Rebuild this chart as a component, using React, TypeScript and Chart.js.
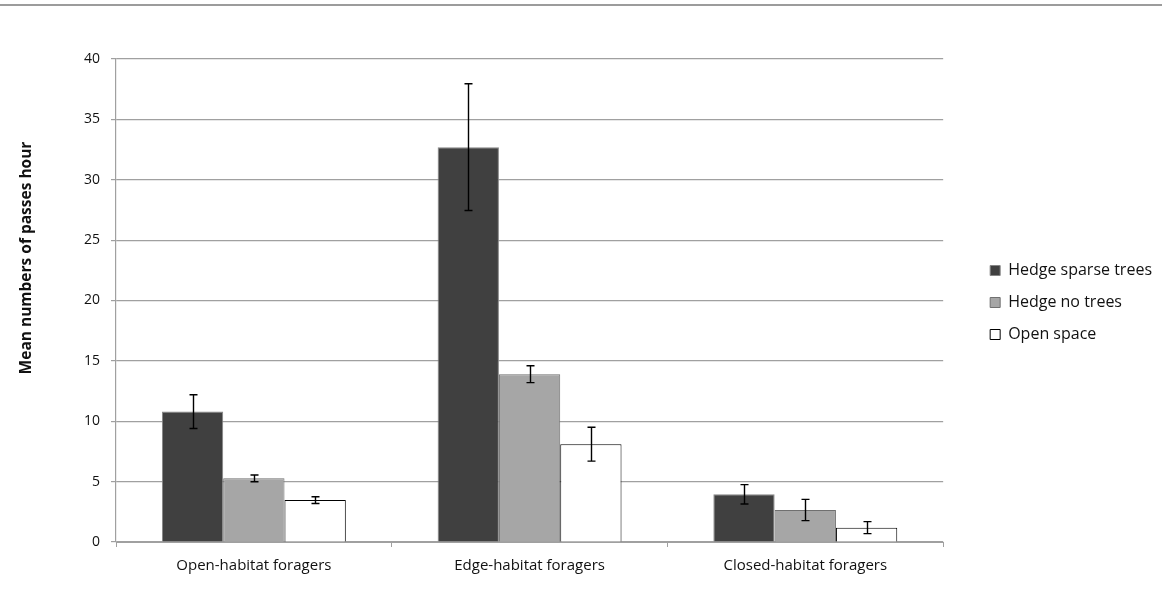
import React, { useEffect, useRef } from "react";
import { Chart, registerables } from "chart.js";

Chart.register(...registerables);

const categories = ["Open-habitat foragers", "Edge-habitat foragers", "Closed-habitat foragers"];
const seriesNames = ["Hedge sparse trees", "Hedge no trees", "Open space"];
const sparseTrees = [10.8, 32.7, 3.95];
const noTrees = [5.27, 13.9, 2.65];
const openSpace = [3.47, 8.1, 1.19];
const sparseTreesErr = [1.4, 5.25, 0.8];
const noTreesErr = [0.28, 0.7, 0.88];
const openSpaceErr = [0.28, 1.4, 0.5];
const yTicks = [0, 5, 10, 15, 20, 25, 30, 35, 40];
const yTitle = "Mean numbers of passes hour";

const FONT = "'Open Sans', sans-serif";

const errorBarPlugin = {
  id: "errorBars",
  afterDatasetsDraw(chart: any) {
    const ctx = chart.ctx;
    const yScale = chart.scales.y;
    ctx.save();
    ctx.strokeStyle = "#000";
    ctx.lineWidth = 1.4;
    chart.data.datasets.forEach((ds: any, di: number) => {
      const meta = chart.getDatasetMeta(di);
      meta.data.forEach((bar: any, i: number) => {
        const v = ds.data[i];
        const e = ds.errors[i];
        const x = Math.round(bar.x) + 0.5;
        const yHi = yScale.getPixelForValue(v + e);
        const yLo = yScale.getPixelForValue(v - e);
        ctx.beginPath();
        ctx.moveTo(x, yHi);
        ctx.lineTo(x, yLo);
        ctx.moveTo(x - 4, yHi);
        ctx.lineTo(x + 4, yHi);
        ctx.moveTo(x - 4, yLo);
        ctx.lineTo(x + 4, yLo);
        ctx.stroke();
      });
    });
    ctx.restore();
  },
};

const yTitlePlugin = {
  id: "yTitle",
  afterDraw(chart: any) {
    const ctx = chart.ctx;
    const area = chart.chartArea;
    ctx.save();
    ctx.translate(27, area.top + (area.bottom - area.top) * 0.412);
    ctx.rotate(-Math.PI / 2);
    ctx.font = `bold 15.5px ${FONT}`;
    ctx.fillStyle = "#111";
    ctx.textAlign = "center";
    ctx.textBaseline = "middle";
    ctx.fillText(yTitle, 0, 0);
    ctx.restore();
  },
};

const legendPlacePlugin = {
  id: "legendPlace",
  afterLayout(chart: any) {
    const lg = chart.legend;
    const area = chart.chartArea;
    if (!lg) return;
    const w = lg.right - lg.left;
    lg.left = area.right + 31;
    lg.right = lg.left + w;
    lg.top = area.top + 4;
    lg.bottom = area.bottom;
    lg.height = lg.bottom - lg.top;
  },
};

export default function App() {
  const ref = useRef<HTMLCanvasElement>(null);
  useEffect(() => {
    if (!ref.current) return;
    const chart = new Chart(ref.current, {
      type: "bar",
      data: {
        labels: categories,
        datasets: [
          {
            label: seriesNames[0],
            data: sparseTrees,
            errors: sparseTreesErr,
            backgroundColor: "#404040",
            borderColor: "#858585",
            borderWidth: 1,
          } as any,
          {
            label: seriesNames[1],
            data: noTrees,
            errors: noTreesErr,
            backgroundColor: "#a6a6a6",
            borderColor: "#707070",
            borderWidth: 1,
          } as any,
          {
            label: seriesNames[2],
            data: openSpace,
            errors: openSpaceErr,
            backgroundColor: "#ffffff",
            borderColor: "#000000",
            borderWidth: 1,
          } as any,
        ],
      },
      options: {
        animation: false,
        responsive: true,
        maintainAspectRatio: false,
        layout: { padding: { left: 76, top: 59, bottom: 14, right: 31 } },
        datasets: { bar: { categoryPercentage: 0.667, barPercentage: 1 } },
        plugins: {
          tooltip: { enabled: false },
          legend: {
            position: "right",
            labels: {
              boxWidth: 10,
              boxHeight: 10,
              padding: 16,
              color: "#111",
              font: { family: FONT, size: 16 },
            },
          },
        },
        scales: {
          x: {
            afterFit(scale: any) {
              scale.height = 40;
            },
            grid: {
              offset: true,
              drawOnChartArea: false,
              drawTicks: true,
              tickLength: 5,
              color: "#a0a0a0",
            },
            border: { display: true, color: "#a0a0a0", width: 1 },
            ticks: { color: "#111", font: { family: FONT, size: 15 }, padding: 10 },
          },
          y: {
            min: 0,
            max: 40,
            afterFit(scale: any) {
              scale.width = 40;
            },
            afterBuildTicks(scale: any) {
              scale.ticks = yTicks.map((v) => ({ value: v }));
            },
            grid: { color: "#a0a0a0", tickLength: 5, lineWidth: 1.2 },
            border: { display: true, color: "#a0a0a0", width: 1.2 },
            ticks: { color: "#111", font: { family: FONT, size: 14 }, padding: 11 },
          },
        },
      },
      plugins: [errorBarPlugin, yTitlePlugin, legendPlacePlugin],
    });
    return () => chart.destroy();
  }, []);
  return (
    <div style={{ position: "absolute", left: 0, top: 0, width: 1162, height: 596, background: "#fff" }}>
      <div style={{ position: "absolute", left: 0, top: 4, width: 1162, height: 2, background: "#9c9c9c" }} />
      <canvas ref={ref} />
    </div>
  );
}
